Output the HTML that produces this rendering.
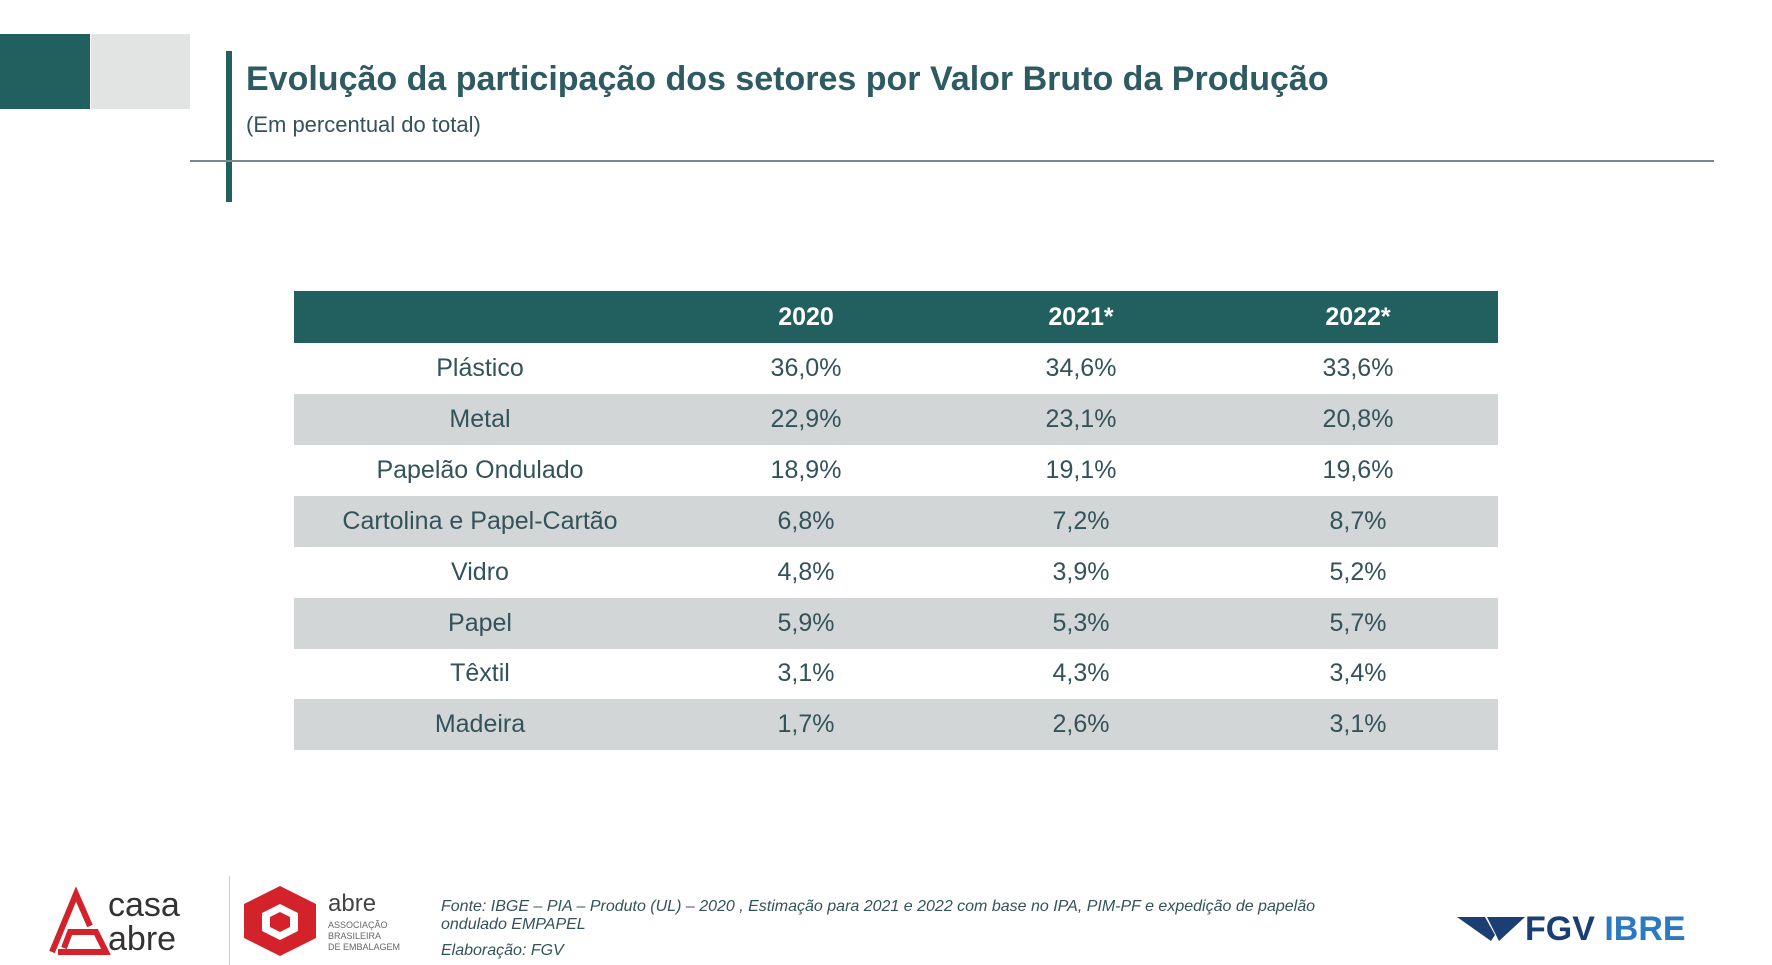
<!DOCTYPE html>
<html><head><meta charset="utf-8"><style>
*{margin:0;padding:0;box-sizing:border-box}
body{width:1772px;height:965px;background:#fff;position:relative;overflow:hidden;font-family:"Liberation Sans",sans-serif;color:#33525a}
.abs{position:absolute}
.row{position:absolute;left:294px;width:1204px;height:51px}
.cell{position:absolute;top:0;height:51px;line-height:51px;font-size:25px;text-align:center;width:300px;margin-left:-150px}
</style></head><body>
<div class="abs" style="left:0;top:34px;width:90px;height:75px;background:#22605f"></div>
<div class="abs" style="left:91px;top:34px;width:99px;height:75px;background:#e2e3e3"></div>
<div class="abs" style="left:226px;top:51px;width:6px;height:151px;background:#22605f"></div>
<div class="abs" style="left:246px;top:60px;font-size:34px;font-weight:bold;color:#2e5a62;white-space:nowrap">Evolução da participação dos setores por Valor Bruto da Produção</div>
<div class="abs" style="left:246px;top:112px;font-size:22px;color:#33525a">(Em percentual do total)</div>
<div class="abs" style="left:190px;top:160px;width:1524px;height:2px;background:#7a8a8c"></div>
<div id="tbl"></div>
<div class="abs" style="left:46px;top:886px;width:172px;height:74px">
<svg width="70" height="74" style="position:absolute;left:0;top:0"><path d="M6 66 L30 8 L44 40 M12 66 L60 66 L50 46 L24 46 L18 62" stroke="#d3222a" stroke-width="6" fill="none"/></svg>
<div class="abs" style="left:62px;top:2px;font-size:34px;color:#333;line-height:34px">casa<br>abre</div></div>
<div class="abs" style="left:229px;top:876px;width:1px;height:89px;background:#ccc"></div>
<div class="abs" style="left:240px;top:882px;width:171px;height:78px">
<svg width="80" height="78" style="position:absolute;left:0;top:0"><polygon points="40,4 76,22 76,56 40,74 4,56 4,22" fill="#d3222a"/><polygon points="40,22 58,31 58,49 40,58 22,49 22,31" fill="#fff"/><polygon points="40,30 50,35 50,45 40,50 30,45 30,35" fill="#d3222a"/></svg>
<div class="abs" style="left:88px;top:8px;font-size:24px;color:#444">abre</div>
<div class="abs" style="left:88px;top:38px;font-size:9px;color:#666;line-height:11px">ASSOCIAÇÃO<br>BRASILEIRA<br>DE EMBALAGEM</div></div>
<div class="abs" style="left:441px;top:898px;font-size:16px;font-style:italic;color:#33525a;line-height:18px;width:920px">Fonte: IBGE – PIA – Produto (UL) – 2020 , Estimação para 2021 e 2022 com base no IPA, PIM-PF e expedição de papelão ondulado EMPAPEL</div>
<div class="abs" style="left:441px;top:942px;font-size:16px;font-style:italic;color:#33525a">Elaboração: FGV</div>
<div class="abs" style="left:1457px;top:910px;font-size:34px;font-weight:bold;white-space:nowrap">
<svg width="68" height="30" style="vertical-align:-3px"><polygon points="0,4 28,4 38,22 34,28" fill="#1c3f73"/><polygon points="30,4 68,4 42,28" fill="#1c3f73"/></svg><span style="color:#1c3f73">FGV</span> <span style="color:#2b7ac0">IBRE</span></div>
<script>
const categories=["Plástico","Metal","Papelão Ondulado","Cartolina e Papel-Cartão","Vidro","Papel","Têxtil","Madeira"];
const years=["2020","2021*","2022*"];
const v2020=["36,0%","22,9%","18,9%","6,8%","4,8%","5,9%","3,1%","1,7%"];
const v2021=["34,6%","23,1%","19,1%","7,2%","3,9%","5,3%","4,3%","2,6%"];
const v2022=["33,6%","20,8%","19,6%","8,7%","5,2%","5,7%","3,4%","3,1%"];
const series=[v2020,v2021,v2022];
const tbl=document.getElementById('tbl');
const colX=[186,512,787,1064];
const head=document.createElement('div');
head.className='row';head.style.top='291px';head.style.height='52px';head.style.background='#22605f';


years.forEach((y,i)=>{const c=document.createElement('div');c.className='cell';c.style.left=colX[i+1]+'px';c.style.color='#fff';c.style.fontWeight='bold';c.style.lineHeight='52px';c.textContent=y;


head.appendChild(c);});
tbl.appendChild(head);
categories.forEach((cat,r)=>{
const row=document.createElement('div');row.className='row';row.style.top=(343+r*50.9)+'px';
if(r%2===1)row.style.background='#d3d6d6';


const l=document.createElement('div');l.className='cell';l.style.left=colX[0]+'px';l.textContent=cat;


row.appendChild(l);
series.forEach((s,i)=>{const c=document.createElement('div');c.className='cell';c.style.left=colX[i+1]+'px';c.textContent=s[r];


row.appendChild(c);});
tbl.appendChild(row);});
</script>
</body></html>
